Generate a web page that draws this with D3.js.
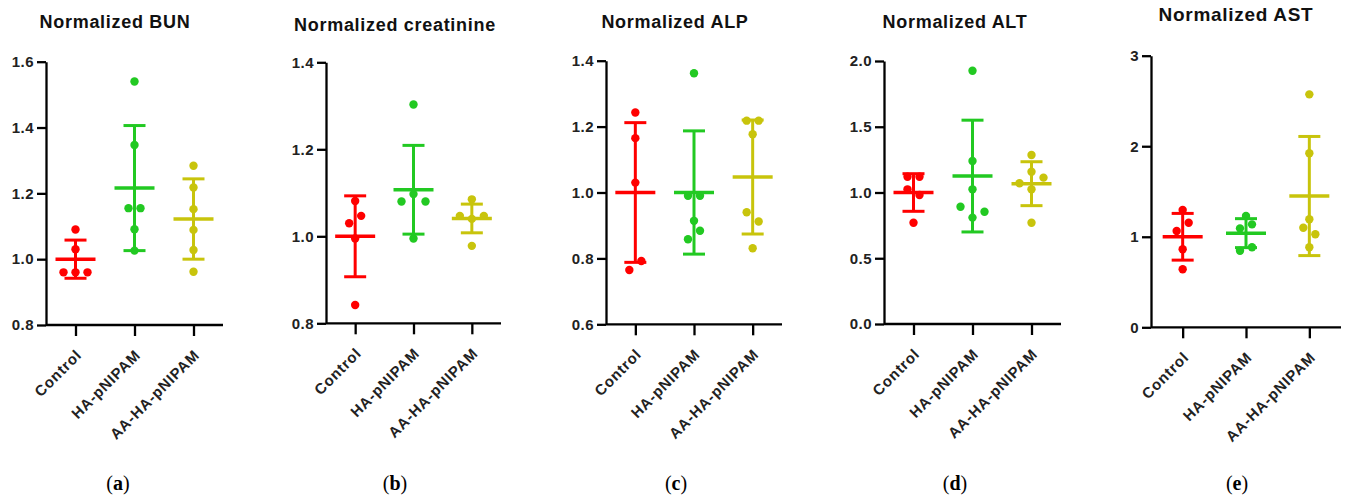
<!DOCTYPE html>
<html><head><meta charset="utf-8">
<script src="https://cdn.jsdelivr.net/npm/d3@7"></script>
<style>body{margin:0;background:#fff}svg{display:block}</style>
</head><body><svg id="c" width="1346" height="501"></svg>
<script>
// ---------- data ----------
const categories = ["Control", "HA-pNIPAM", "AA-HA-pNIPAM"];
const tags = ["a", "b", "c", "d", "e"];
const titles = ["Normalized BUN", "Normalized creatinine", "Normalized ALP", "Normalized ALT", "Normalized AST"];

const bunValues = [[0.96, 0.96, 0.96, 1.03, 1.09], [1.54, 1.347, 1.155, 1.155, 1.091, 1.026], [1.284, 1.218, 1.152, 1.089, 1.028, 0.962]];
const bunMean = [1.0, 1.216, 1.122];
const bunSD = [0.058, 0.19, 0.122];
const bunTicks = [0.8, 1.0, 1.2, 1.4, 1.6];

const creaValues = [[1.081, 1.03, 1.047, 0.995, 0.842], [1.303, 1.08, 1.097, 1.08, 0.995], [1.085, 1.047, 1.04, 1.047, 0.978]];
const creaMean = [1.0, 1.107, 1.041];
const creaSD = [0.093, 0.102, 0.033];
const creaTicks = [0.8, 1.0, 1.2, 1.4];

const alpValues = [[1.243, 1.165, 1.03, 0.765, 0.792], [1.362, 0.99, 0.99, 0.914, 0.858, 0.884], [1.218, 1.218, 1.177, 0.94, 0.912, 0.831]];
const alpMean = [1.0, 1.0, 1.047];
const alpSD = [0.212, 0.187, 0.173];
const alpTicks = [0.6, 0.8, 1.0, 1.2, 1.4];

const altValues = [[1.12, 1.12, 1.024, 0.981, 0.77], [1.926, 1.24, 1.024, 0.892, 0.809, 0.854], [1.285, 1.158, 1.07, 1.024, 1.113, 0.77]];
const altMean = [1.0, 1.125, 1.067];
const altSD = [0.143, 0.425, 0.167];
const altTicks = [0.0, 0.5, 1.0, 1.5, 2.0];

const astValues = [[1.296, 1.064, 1.155, 0.862, 0.641], [1.229, 1.093, 1.137, 0.846, 0.884], [2.573, 1.922, 1.193, 1.1, 1.027, 0.884]];
const astMean = [1.0, 1.04, 1.45];
const astSD = [0.258, 0.16, 0.658];
const astTicks = [0, 1, 2, 3];

const panels = [
  {values: bunValues, mean: bunMean, sd: bunSD, ticks: bunTicks, fmt: ".1f"},
  {values: creaValues, mean: creaMean, sd: creaSD, ticks: creaTicks, fmt: ".1f"},
  {values: alpValues, mean: alpMean, sd: alpSD, ticks: alpTicks, fmt: ".1f"},
  {values: altValues, mean: altMean, sd: altSD, ticks: altTicks, fmt: ".1f"},
  {values: astValues, mean: astMean, sd: astSD, ticks: astTicks, fmt: "d"}
];

// ---------- layout / style ----------
const colors = ["#ff0000", "#22c922", "#c8c40c"];
const layout = [
  {x0: 46, x1: 223, yTop: 61.7, yBot: 325, titleX: 115, titleY: 28, titleSize: 18, tagX: 118},
  {x0: 326, x1: 501, yTop: 62.3, yBot: 323.3, titleX: 395, titleY: 31, titleSize: 18, tagX: 395},
  {x0: 606, x1: 782, yTop: 60.7, yBot: 324.3, titleX: 675, titleY: 28, titleSize: 18, tagX: 676},
  {x0: 884, x1: 1061, yTop: 61, yBot: 324, titleX: 955, titleY: 28, titleSize: 18, tagX: 955},
  {x0: 1151, x1: 1341, yTop: 55.7, yBot: 327.3, titleX: 1236, titleY: 21, titleSize: 19, tagX: 1237}
];

const svg = d3.select("#c");
const sans = "'Liberation Sans', Arial, sans-serif";

function swarm(vals, y, cx) {
  const pts = vals.map((v, i) => ({v, i, py: y(v)}));
  const sorted = pts.slice().sort((a, b) => b.py - a.py || a.i - b.i);
  const rows = [];
  let cur = null;
  sorted.forEach(p => {
    if (cur && cur.start - p.py < 12) cur.items.push(p);
    else { cur = {start: p.py, items: [p]}; rows.push(cur); }
  });
  rows.forEach(r => {
    r.items.sort((a, b) => a.i - b.i);
    const n = r.items.length;
    r.items.forEach((p, k) => { p.px = cx + (k - (n - 1) / 2) * 12; });
  });
  return pts;
}

panels.forEach((p, pi) => {
  const L = layout[pi];
  const g = svg.append("g");
  const x = d3.scalePoint().domain(categories).range([L.x0, L.x1]).padding(0.5);
  const y = d3.scaleLinear().domain([p.ticks[0], p.ticks[p.ticks.length - 1]]).range([L.yBot, L.yTop]);

  // title
  g.append("text").attr("x", L.titleX).attr("y", L.titleY)
    .attr("text-anchor", "middle").attr("font-family", sans).attr("font-weight", "bold")
    .attr("font-size", L.titleSize).attr("letter-spacing", "0.7px").attr("fill", "#111")
    .text(titles[pi]);

  // y axis
  const ya = g.append("g").attr("transform", `translate(${L.x0},0)`)
    .call(d3.axisLeft(y).tickValues(p.ticks).tickFormat(d3.format(p.fmt)).tickSize(9).tickSizeOuter(0).tickPadding(3));
  // x axis
  const xa = g.append("g").attr("transform", `translate(0,${L.yBot})`)
    .call(d3.axisBottom(x).tickSize(11).tickSizeOuter(0).tickFormat(""));
  [ya, xa].forEach(a => {
    a.select(".domain").attr("stroke", "#000").attr("stroke-width", 2.3);
    a.selectAll(".tick line").attr("stroke", "#000").attr("stroke-width", 2.3);
  });
  xa.select(".domain").attr("d", `M${L.x0},0H${L.x1}`);
  ya.selectAll(".tick text").attr("font-family", sans).attr("font-weight", "bold")
    .attr("font-size", 15).attr("letter-spacing", "0.5px").attr("fill", "#222");

  // x labels
  categories.forEach(c => {
    g.append("text")
      .attr("transform", `translate(${x(c) + 7},${L.yBot + 31}) rotate(-45)`)
      .attr("text-anchor", "end").attr("font-family", sans).attr("font-weight", "bold")
      .attr("font-size", 15).attr("letter-spacing", "0.8px").attr("fill", "#222")
      .text(c);
  });

  // points and error bars
  categories.forEach((c, ci) => {
    const col = colors[ci];
    const cx = x(c);
    const pts = swarm(p.values[ci], y, cx);
    g.append("g").selectAll("circle").data(pts).join("circle")
      .attr("cx", d => d.px).attr("cy", d => d.py).attr("r", 4.2).attr("fill", col);
    const m = p.mean[ci], s = p.sd[ci];
    const eb = g.append("g").attr("stroke", col).attr("stroke-width", 3);
    eb.append("line").attr("x1", cx).attr("x2", cx).attr("y1", y(m - s)).attr("y2", y(m + s));
    eb.append("line").attr("x1", cx - 11).attr("x2", cx + 11).attr("y1", y(m + s)).attr("y2", y(m + s));
    eb.append("line").attr("x1", cx - 11).attr("x2", cx + 11).attr("y1", y(m - s)).attr("y2", y(m - s));
    eb.append("line").attr("x1", cx - 20).attr("x2", cx + 20).attr("y1", y(m)).attr("y2", y(m)).attr("stroke-width", 3.5);
  });

  // panel tag
  const t = svg.append("text").attr("x", L.tagX).attr("y", 490).attr("text-anchor", "middle")
    .attr("font-family", "'Liberation Serif', 'DejaVu Serif', serif").attr("font-size", 20).attr("fill", "#000");
  t.append("tspan").text("(");
  t.append("tspan").attr("font-weight", "bold").text(tags[pi]);
  t.append("tspan").text(")");
});
</script></body></html>
